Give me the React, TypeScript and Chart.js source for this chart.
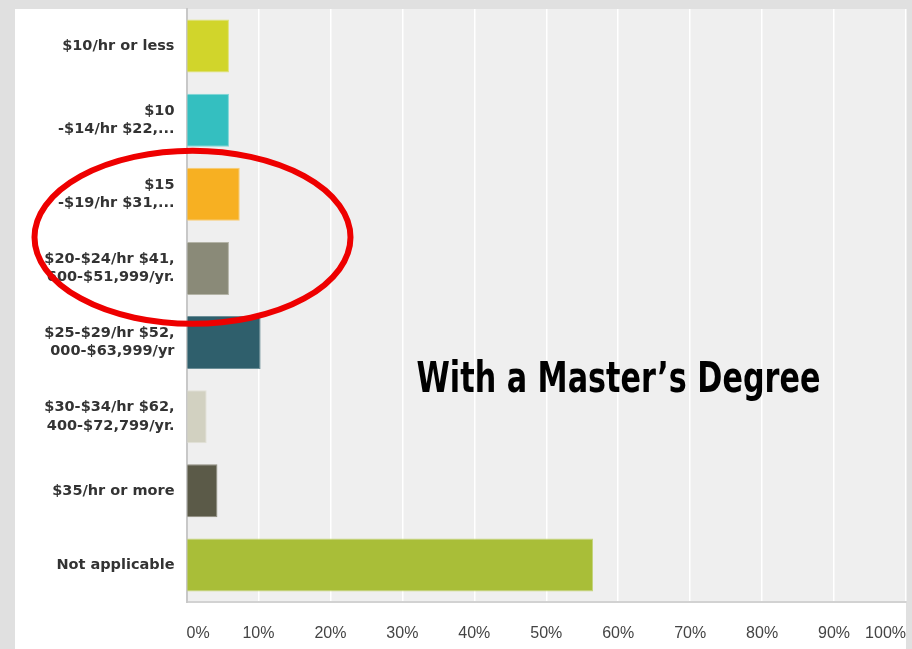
import React, { useEffect, useRef } from "react";
import { Chart, registerables } from "chart.js";

Chart.register(...registerables);

const categories: (string | string[])[] = [
  "$10/hr or less",
  ["$10", "-$14/hr $22,..."],
  ["$15", "-$19/hr $31,..."],
  ["$20-$24/hr $41,", "600-$51,999/yr."],
  ["$25-$29/hr $52,", "000-$63,999/yr"],
  ["$30-$34/hr $62,", "400-$72,799/yr."],
  "$35/hr or more",
  "Not applicable",
];
const values = [5.9, 5.9, 7.4, 5.9, 10.3, 2.8, 4.3, 56.5];
const barColors = ["#d1d52b", "#34bfc0", "#f7b022", "#8a8a78", "#2f5f6c", "#d2d1c1", "#5b5a48", "#a9be38"];
const barBorders = ["#dfe27a", "#7fd6d6", "#f9cc73", "#b3b3a6", "#6b8e97", "#e2e1d6", "#8e8d7f", "#c5d57e"];
const xTickValues = [0, 10, 20, 30, 40, 50, 60, 70, 80, 90, 100];
const overlayTitle = "With a Master\u2019s Degree";

const W = 912;
const H = 649;

export default function App() {
  const ref = useRef<HTMLCanvasElement | null>(null);

  useEffect(() => {
    const canvas = ref.current;
    if (!canvas) return;

    const bgPlugin = {
      id: "bgPlugin",
      beforeDraw(chart: any) {
        const { ctx, chartArea } = chart;
        ctx.save();
        ctx.fillStyle = "#e0e0e0";
        ctx.fillRect(0, 0, W, H);
        ctx.fillStyle = "#ffffff";
        ctx.fillRect(15, 9, chartArea.right - 15, H - 9);
        ctx.fillStyle = "#efefef";
        ctx.fillRect(chartArea.left, chartArea.top, chartArea.right - chartArea.left, chartArea.bottom - chartArea.top);
        ctx.restore();
      },
      afterDraw(chart: any) {
        const { ctx } = chart;
        ctx.save();
        ctx.fillStyle = "#000000";
        ctx.font = 'bold 42px "Liberation Sans Narrow", "DejaVu Sans Condensed", "Roboto", sans-serif';
        ctx.textBaseline = "alphabetic";
        ctx.textAlign = "left";
        const w = ctx.measureText(overlayTitle).width;
        const target = 404;
        ctx.translate(416.5, 392);
        ctx.scale(target / w, 1);
        ctx.fillText(overlayTitle, 0, 0);
        ctx.restore();

        ctx.save();
        ctx.strokeStyle = "#ee0000";
        ctx.lineWidth = 6;
        ctx.beginPath();
        ctx.ellipse(192.5, 237.3, 158, 86.5, 0, 0, Math.PI * 2);
        ctx.stroke();
        ctx.restore();
      },
    };

    const chart = new Chart(canvas, {
      type: "bar",
      data: {
        labels: categories,
        datasets: [
          {
            data: values,
            backgroundColor: barColors,
            borderColor: barBorders,
            borderWidth: 1,
            barPercentage: 0.714,
            categoryPercentage: 1,
          },
        ],
      },
      options: {
        indexAxis: "y",
        responsive: false,
        animation: false,
        devicePixelRatio: 1,
        layout: { padding: { left: 15, top: 9, right: 6, bottom: 0 } },
        plugins: {
          legend: { display: false },
          tooltip: { enabled: false },
          title: { display: false },
        },
        scales: {
          x: {
            type: "linear",
            min: 0,
            max: 100,
            afterFit(scale: any) {
              scale.height = 47;
              scale.paddingLeft = 0;
              scale.paddingRight = 0;
            },
            afterBuildTicks(scale: any) {
              scale.ticks = xTickValues.map((v) => ({ value: v }));
            },
            grid: { color: "#ffffff", lineWidth: 1.5, drawTicks: false },
            border: { display: true, color: "#d2d2d2", width: 2 },
            ticks: {
              align: "inner",
              padding: 22,
              color: "#444444",
              font: { family: '"Liberation Sans", Arial, sans-serif', size: 16 },
              callback: (v: any) => v + "%",
            },
          },
          y: {
            afterFit(scale: any) {
              scale.width = 171.5;
              scale.paddingTop = 0;
              scale.paddingBottom = 0;
            },
            grid: { display: false, drawTicks: false },
            border: { display: true, color: "#c8c8c8", width: 2 },
            ticks: {
              padding: 12,
              color: "#333333",
              font: { family: '"DejaVu Sans", sans-serif', size: 14.5, weight: "bold", lineHeight: 1.25 },
            },
          },
        },
      },
      plugins: [bgPlugin],
    } as any);

    return () => chart.destroy();
  }, []);

  return (
    <div style={{ position: "fixed", left: 0, top: 0, width: W, height: H, background: "#e0e0e0" }}>
      <canvas ref={ref} width={W} height={H} style={{ display: "block", width: W, height: H }} />
    </div>
  );
}
